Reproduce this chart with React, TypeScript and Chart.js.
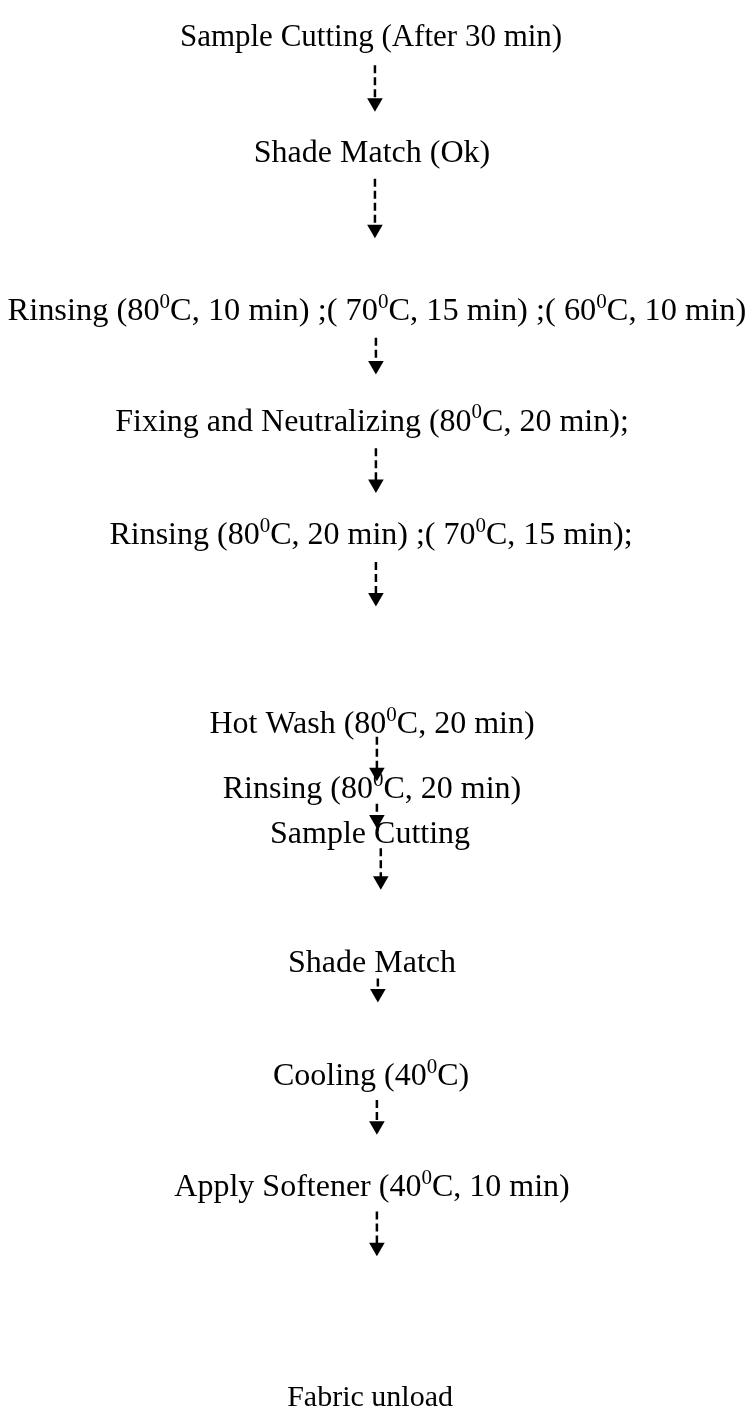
import React, { useEffect, useRef } from "react";
import { Chart, registerables } from "chart.js";

Chart.register(...registerables);

// Step labels ("{0}" marks a superscript zero)
const stepLabels = [
  "Sample Cutting (After 30 min)",
  "Shade Match (Ok)",
  "Rinsing (80{0}C, 10 min) ;( 70{0}C, 15 min) ;( 60{0}C, 10 min)",
  "Fixing and Neutralizing (80{0}C, 20 min);",
  "Rinsing (80{0}C, 20 min) ;( 70{0}C, 15 min);",
  "Hot Wash (80{0}C, 20 min)",
  "Rinsing (80{0}C, 20 min)",
  "Sample Cutting",
  "Shade Match",
  "Cooling (40{0}C)",
  "Apply Softener (40{0}C, 10 min)",
  "Fabric unload",
];
const stepX = [371, 372, 377, 372, 371, 372, 372, 370, 372, 371, 372, 370];
const stepY = [28, 145, 305, 417, 532, 723, 789, 835, 965, 1080, 1192, 1405];
const stepSize = [31, 32, 32.4, 32, 32, 32, 32, 32, 32, 32, 32, 30];

// Arrows: x position, dash start, arrow tip
const arrowX = [375, 375, 376, 376, 376, 377, 377, 381, 378, 377, 377];
const arrowStart = [57, 172, 333, 445, 560, 737, 805, 850, 982, 1105, 1218];
const arrowTip = [104, 232, 370, 490, 605, 782, 830, 892, 1006, 1140, 1263];

const HEAD = 9;
const FONT = '"Liberation Serif", "Times New Roman", serif';

const textPlugin = {
  id: "stepText",
  afterDatasetsDraw(chart: any) {
    const { ctx, scales } = chart;
    ctx.save();
    ctx.fillStyle = "#000";
    ctx.textBaseline = "alphabetic";
    stepLabels.forEach((label, i) => {
      const cx = scales.x.getPixelForValue(stepX[i]);
      const cy = scales.y.getPixelForValue(stepY[i]);
      const size = stepSize[i];
      const parts = label.split(/(\{0\})/).filter((p) => p.length);
      const main = `${size}px ${FONT}`;
      const sup = `${Math.round(size * 0.66)}px ${FONT}`;
      let total = 0;
      parts.forEach((p) => {
        ctx.font = p === "{0}" ? sup : main;
        total += ctx.measureText(p === "{0}" ? "0" : p).width;
      });
      let x = cx - total / 2;
      const base = cy + size * 0.31;
      parts.forEach((p) => {
        if (p === "{0}") {
          ctx.font = sup;
          ctx.fillText("0", x, base - size * 0.38);
          x += ctx.measureText("0").width;
        } else {
          ctx.font = main;
          ctx.fillText(p, x, base);
          x += ctx.measureText(p).width;
        }
      });
    });
    ctx.restore();
  },
};

export default function App() {
  const ref = useRef<HTMLCanvasElement>(null);
  useEffect(() => {
    document.body.style.margin = "0";
    const lineSets = arrowX.map((x, i) => ({
      type: "line" as const,
      data: [
        { x, y: arrowStart[i] },
        { x, y: arrowTip[i] - HEAD * 1.2 },
      ],
      borderColor: "#000",
      borderWidth: 2.5,
      borderDash: [8, 4],
      pointRadius: 0,
      fill: false,
    }));
    const heads = {
      type: "scatter" as const,
      data: arrowX.map((x, i) => ({ x, y: arrowTip[i] - HEAD })),
      pointStyle: "triangle",
      rotation: 180,
      pointRadius: HEAD,
      backgroundColor: "#000",
      borderColor: "#000",
      borderWidth: 0,
    };
    const chart = new Chart(ref.current!, {
      type: "scatter",
      data: { datasets: [...lineSets, heads] as any },
      options: {
        animation: false,
        responsive: false,
        events: [],
        layout: { padding: 0 },
        plugins: { legend: { display: false }, tooltip: { enabled: false } },
        scales: {
          x: { type: "linear", min: 0, max: 745, display: false },
          y: { type: "linear", min: 0, max: 1422, reverse: true, display: false },
        },
      },
      plugins: [textPlugin],
    });
    return () => chart.destroy();
  }, []);
  return (
    <div style={{ width: 745, height: 1422, background: "#fff" }}>
      <canvas ref={ref} width={745} height={1422} style={{ display: "block" }} />
    </div>
  );
}
